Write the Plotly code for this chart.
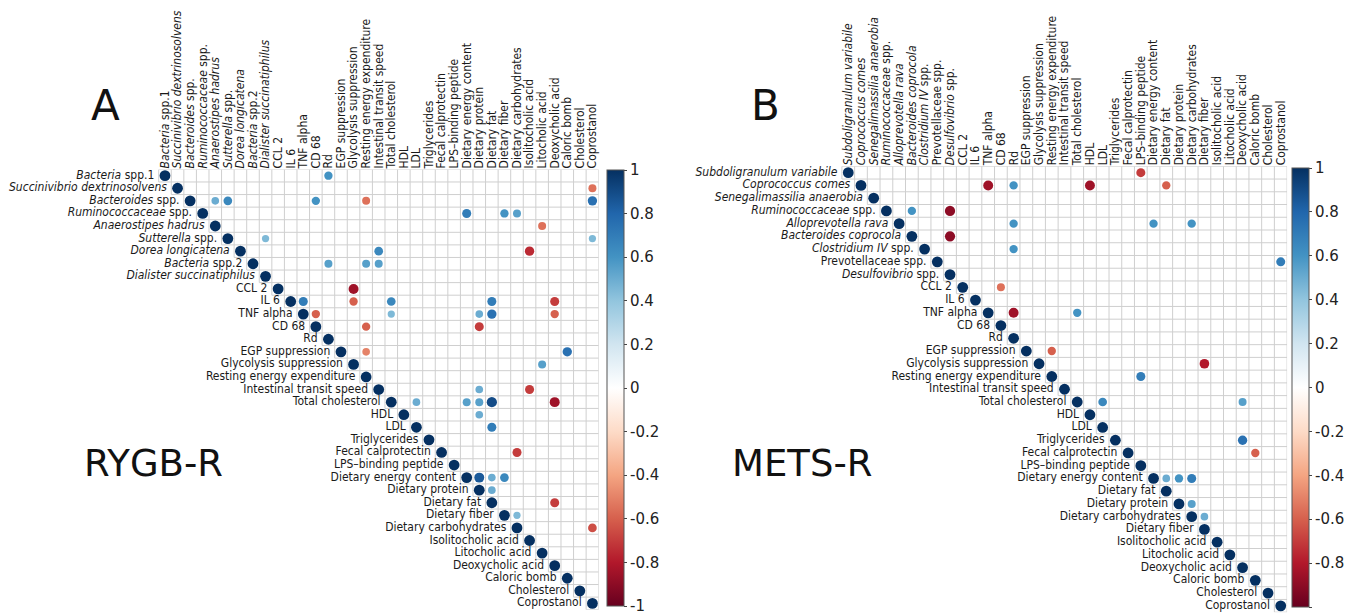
import plotly.graph_objects as go

W, H = 1363, 616
FONT = "DejaVu Sans Condensed, Liberation Sans Narrow, DejaVu Sans, sans-serif"
WIDE = "DejaVu Sans, Verdana, sans-serif"

# ---------------- data ----------------
labels_a = [
    "<i>Bacteria</i> spp.1", "<i>Succinivibrio dextrinosolvens</i>", "<i>Bacteroides</i> spp.",
    "<i>Ruminococcaceae</i> spp.", "<i>Anaerostipes hadrus</i>", "<i>Sutterella</i> spp.",
    "<i>Dorea longicatena</i>", "<i>Bacteria</i> spp.2", "<i>Dialister succinatiphilus</i>",
    "CCL 2", "IL 6", "TNF alpha", "CD 68", "Rd", "EGP suppression", "Glycolysis suppression",
    "Resting energy expenditure", "Intestinal transit speed", "Total cholesterol", "HDL", "LDL",
    "Triglycerides", "Fecal calprotectin", "LPS–binding peptide", "Dietary energy content",
    "Dietary protein", "Dietary fat", "Dietary fiber", "Dietary carbohydrates",
    "Isolitocholic acid", "Litocholic acid", "Deoxycholic acid", "Caloric bomb",
    "Cholesterol", "Coprostanol",
]
labels_b = [
    "<i>Subdoligranulum variabile</i>", "<i>Coprococcus comes</i>", "<i>Senegalimassilia anaerobia</i>",
    "<i>Ruminococcaceae</i> spp.", "<i>Alloprevotella rava</i>", "<i>Bacteroides coprocola</i>",
    "<i>Clostridium IV</i> spp.", "Prevotellaceae spp.", "<i>Desulfovibrio</i> spp.",
    "CCL 2", "IL 6", "TNF alpha", "CD 68", "Rd", "EGP suppression", "Glycolysis suppression",
    "Resting energy expenditure", "Intestinal transit speed", "Total cholesterol", "HDL", "LDL",
    "Triglycerides", "Fecal calprotectin", "LPS–binding peptide", "Dietary energy content",
    "Dietary fat", "Dietary protein", "Dietary carbohydrates", "Dietary fiber",
    "Isolitocholic acid", "Litocholic acid", "Deoxycholic acid", "Caloric bomb",
    "Cholesterol", "Coprostanol",
]

# significant off-diagonal correlations (row index, column index, r)
row_a = [0, 1, 2, 2, 2, 2, 2, 3, 3, 3, 4, 5, 5, 6, 6, 7, 7, 7, 9,
         10, 10, 10, 10, 10, 11, 11, 11, 11, 11, 12, 12, 14, 14, 15,
         17, 17, 18, 18, 18, 18, 18, 19, 20, 22, 24, 24, 24, 25, 26, 27, 28]
col_a = [13, 34, 4, 5, 12, 16, 34, 24, 27, 28, 30, 8, 34, 17, 29, 13, 16, 17, 15,
         11, 15, 18, 26, 31, 12, 18, 25, 26, 31, 16, 25, 16, 32, 30,
         25, 29, 20, 24, 25, 26, 31, 25, 26, 28, 25, 26, 27, 26, 31, 28, 34]
r_a = [0.6, -0.55, 0.5, 0.65, 0.6, -0.55, 0.75, 0.7, 0.6, 0.55, -0.55, 0.45, 0.45, 0.65, -0.75,
       0.55, 0.55, 0.55, -0.85,
       0.7, -0.6, 0.65, 0.7, -0.7, -0.6, 0.45, 0.5, 0.75, -0.6, -0.6, -0.7, -0.5, 0.75, 0.55,
       0.5, -0.7, 0.5, 0.55, 0.55, 0.9, -0.85, 0.5, 0.7, -0.7, 0.85, 0.5, 0.65, 0.5, -0.7, 0.45, -0.65]

row_b = [0, 1, 1, 1, 1, 3, 3, 4, 4, 4, 5, 6, 7, 9, 11, 11, 14, 15, 16, 18, 18, 21, 22,
         24, 24, 24, 26, 27]
col_b = [23, 11, 13, 19, 25, 5, 8, 13, 24, 27, 8, 13, 34, 12, 13, 18, 16, 28, 23, 20, 31, 31, 32,
         25, 26, 27, 27, 28]
r_b = [-0.7, -0.85, 0.6, -0.85, -0.6, 0.6, -0.9, 0.6, 0.6, 0.6, -0.9, 0.6, 0.7, -0.55, -0.85, 0.6,
       -0.6, -0.8, 0.7, 0.65, 0.55, 0.75, -0.6, 0.5, 0.6, 0.7, 0.55, 0.5]

cb_ticks = [1, 0.8, 0.6, 0.4, 0.2, 0, -0.2, -0.4, -0.6, -0.8, -1]
cb_text = ["1", "0.8", "0.6", "0.4", "0.2", "0", "-0.2", "-0.4", "-0.6", "-0.8", "-1"]

colorscale = [[0.0, "#67001F"], [0.1, "#B2182B"], [0.2, "#D6604D"], [0.3, "#F4A582"],
              [0.4, "#FDDBC7"], [0.5, "#FFFFFF"], [0.6, "#D1E5F0"], [0.7, "#92C5DE"],
              [0.8, "#4393C3"], [0.9, "#2166AC"], [1.0, "#053061"]]

# ---------------- layout geometry (pixels) ----------------
panels = [
    dict(labels=labels_a, rows=row_a, cols=col_a, vals=r_a,
         x0=158.7, x1=598.7, y0=169.4, y1=609.7, cbx=606.5, cby0=170, cby1=606,
         letter="A", letter_xy=(105, 106), name="RYGB-R", name_xy=(153, 463)),
    dict(labels=labels_b, rows=row_b, cols=col_b, vals=r_b,
         x0=841.9, x1=1287.1, y0=166.3, y1=612.2, cbx=1291.5, cby0=168, cby1=607,
         letter="B", letter_xy=(765, 106), name="METS-R", name_xy=(802, 463)),
]

fig = go.Figure()
annotations = []
DOT = 10.8
LABEL_GAP = 0.85  # label anchor offset from diagonal, in cell units
PAD = 1  # one extra (empty) cell on the left of each axis so the first row label is drawn

for k, p in enumerate(panels):
    n = len(p["labels"])
    xa = "x" if k == 0 else "x2"
    ya = "y" if k == 0 else "y2"
    # grid for upper triangle
    gx, gy = [], []
    for m in range(n + 1):
        start = -0.5 if m == 0 else (m - 1) - 0.5
        gx += [start, n - 0.5, None]
        gy += [m - 0.5, m - 0.5, None]
        end = min(m, n - 1) + 0.5
        gx += [m - 0.5, m - 0.5, None]
        gy += [-0.5, end, None]
    fig.add_trace(go.Scatter(x=gx, y=gy, mode="lines", line=dict(color="#cfcfcf", width=1),
                             hoverinfo="skip", showlegend=False, xaxis=xa, yaxis=ya,
                             cliponaxis=False))
    # points: diagonal + significant correlations
    px = list(range(n)) + list(p["cols"])
    py = list(range(n)) + list(p["rows"])
    pv = [1.0] * n + list(p["vals"])
    sizes = [DOT * abs(v) ** 0.5 for v in pv]
    cb_len = p["cby1"] - p["cby0"]
    fig.add_trace(go.Scatter(
        x=px, y=py, mode="markers", showlegend=False, xaxis=xa, yaxis=ya, cliponaxis=False,
        marker=dict(size=sizes, color=pv, colorscale=colorscale, cmin=-1, cmax=1,
                    line=dict(width=0), opacity=1,
                    showscale=True,
                    colorbar=dict(x=p["cbx"] / W, xanchor="left", xpad=0, ypad=0,
                                  y=1 - (p["cby0"] + p["cby1"]) / 2 / H, yanchor="middle",
                                  len=cb_len, lenmode="pixels", thickness=17,
                                  outlinewidth=1, outlinecolor="#555555",
                                  tickvals=cb_ticks, ticktext=cb_text,
                                  ticks="outside", ticklen=3, tickcolor="#444444",
                                  tickfont=dict(family=WIDE, size=15, color="#222222"))),
        text=[f"{v:.2f}" for v in pv], hoverinfo="text"))
    # row labels next to diagonal
    fig.add_trace(go.Scatter(
        x=[j - LABEL_GAP for j in range(n)], y=list(range(n)), mode="text", cliponaxis=False,
        text=p["labels"], textposition="middle left",
        textfont=dict(family=FONT, size=12, color="#1a1a1a"),
        hoverinfo="skip", showlegend=False, xaxis=xa, yaxis=ya))
    annotations.append(dict(text=p["letter"], x=p["letter_xy"][0] / W, y=1 - p["letter_xy"][1] / H,
                            xref="paper", yref="paper", showarrow=False,
                            xanchor="center", yanchor="middle",
                            font=dict(family=WIDE, size=42, color="#111111")))
    annotations.append(dict(text=p["name"], x=p["name_xy"][0] / W, y=1 - p["name_xy"][1] / H,
                            xref="paper", yref="paper", showarrow=False,
                            xanchor="center", yanchor="middle",
                            font=dict(family=WIDE, size=37, color="#111111")))

def xaxis_cfg(p, anchor):
    n = len(p["labels"])
    cell = (p["x1"] - p["x0"]) / n
    return dict(domain=[(p["x0"] - PAD * cell) / W, p["x1"] / W], range=[-0.5 - PAD, n - 0.5],
                side="top",
                tickmode="array", tickvals=list(range(n)), ticktext=p["labels"],
                tickangle=-90, ticks="", showgrid=False, zeroline=False, showline=False,
                tickfont=dict(family=FONT, size=12, color="#1a1a1a"), anchor=anchor,
                fixedrange=True, automargin=False)

def yaxis_cfg(p, anchor):
    n = len(p["labels"])
    return dict(domain=[1 - p["y1"] / H, 1 - p["y0"] / H], range=[n - 0.5, -0.5],
                showticklabels=False, ticks="", showgrid=False, zeroline=False,
                showline=False, anchor=anchor, fixedrange=True, automargin=False)

fig.update_layout(
    width=W, height=H, margin=dict(l=0, r=0, t=0, b=0, autoexpand=False),
    paper_bgcolor="white", plot_bgcolor="rgba(0,0,0,0)",
    xaxis=xaxis_cfg(panels[0], "y"), yaxis=yaxis_cfg(panels[0], "x"),
    xaxis2=xaxis_cfg(panels[1], "y2"), yaxis2=yaxis_cfg(panels[1], "x2"),
    annotations=annotations, showlegend=False,
)

fig.write_html("out.html", config={"displayModeBar": False},
               post_script="document.body.style.margin='0';document.body.style.padding='0';")
